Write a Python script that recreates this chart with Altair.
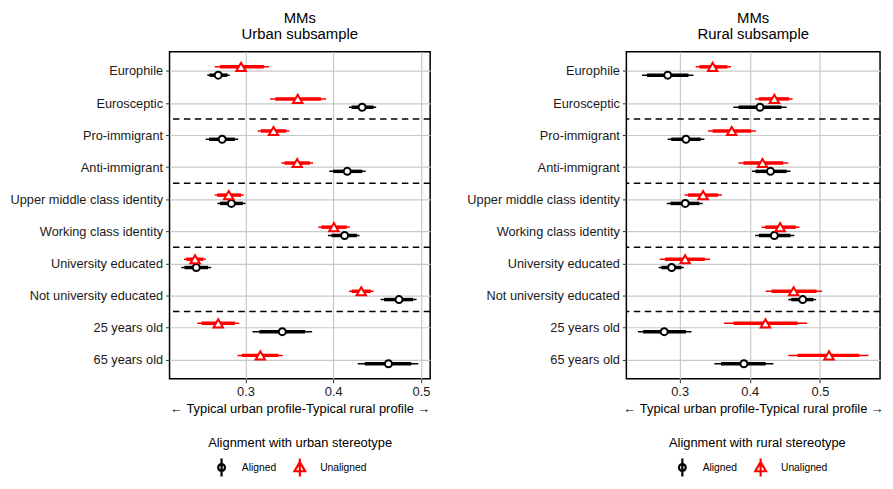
import altair as alt
import pandas as pd

FONT = "Liberation Sans"

labels = [
    "Europhile", "Eurosceptic", "Pro-immigrant", "Anti-immigrant",
    "Upper middle class identity", "Working class identity",
    "University educated", "Not university educated",
    "25 years old", "65 years old",
]
group_starts = ["Pro-immigrant", "Upper middle class identity", "University educated", "25 years old"]
align_names = ["Aligned", "Unaligned"]
x_ticks = [0.3, 0.4, 0.5]
x_title = "\u2190 Typical urban profile-Typical rural profile \u2192"

# Urban subsample - aligned (black)
ua_est = [0.269, 0.433, 0.2735, 0.416, 0.284, 0.413, 0.244, 0.475, 0.342, 0.463]
ua_lo95 = [0.2565, 0.418, 0.2547, 0.3955, 0.268, 0.394, 0.227, 0.454, 0.308, 0.428]
ua_hi95 = [0.282, 0.449, 0.2917, 0.437, 0.300, 0.430, 0.261, 0.495, 0.376, 0.497]
ua_lo90 = [0.259, 0.421, 0.2585, 0.400, 0.271, 0.398, 0.2305, 0.458, 0.316, 0.436]
ua_hi90 = [0.2795, 0.446, 0.288, 0.433, 0.297, 0.427, 0.2575, 0.491, 0.368, 0.489]
# Urban subsample - unaligned (red)
uu_est = [0.295, 0.3596, 0.332, 0.359, 0.281, 0.4008, 0.2426, 0.432, 0.269, 0.317]
uu_lo95 = [0.265, 0.328, 0.314, 0.341, 0.265, 0.383, 0.230, 0.418, 0.245, 0.291]
uu_hi95 = [0.327, 0.392, 0.350, 0.377, 0.298, 0.419, 0.2547, 0.446, 0.293, 0.3426]
uu_lo90 = [0.271, 0.334, 0.3175, 0.3445, 0.268, 0.3865, 0.2325, 0.421, 0.250, 0.296]
uu_hi90 = [0.321, 0.386, 0.3465, 0.3735, 0.295, 0.4155, 0.252, 0.443, 0.288, 0.3375]

# Rural subsample - aligned (black)
ra_est = [0.283, 0.4145, 0.309, 0.4295, 0.308, 0.435, 0.2886, 0.4754, 0.278, 0.3916]
ra_lo95 = [0.2464, 0.3765, 0.283, 0.403, 0.2817, 0.4076, 0.2702, 0.4548, 0.2405, 0.3495]
ra_hi95 = [0.3196, 0.4525, 0.3353, 0.458, 0.333, 0.4635, 0.3059, 0.4946, 0.3169, 0.4337]
ra_lo90 = [0.2535, 0.384, 0.288, 0.408, 0.287, 0.413, 0.274, 0.459, 0.248, 0.359]
ra_hi90 = [0.3125, 0.445, 0.330, 0.4525, 0.328, 0.458, 0.3025, 0.4905, 0.309, 0.4225]
# Rural subsample - unaligned (red)
ru_est = [0.3471, 0.435, 0.3742, 0.4181, 0.3334, 0.4433, 0.3078, 0.4625, 0.4223, 0.5129]
ru_lo95 = [0.3229, 0.4076, 0.3403, 0.3838, 0.3069, 0.4168, 0.2716, 0.4227, 0.3632, 0.4548]
ru_hi95 = [0.3732, 0.4611, 0.4089, 0.4548, 0.3604, 0.4708, 0.3435, 0.5029, 0.4818, 0.5692]
ru_lo90 = [0.328, 0.413, 0.347, 0.391, 0.312, 0.422, 0.279, 0.431, 0.377, 0.468]
ru_hi90 = [0.368, 0.456, 0.402, 0.4475, 0.355, 0.4655, 0.336, 0.495, 0.468, 0.556]


def build_df(a, u):
    rows = []
    for name, series in (("Aligned", a), ("Unaligned", u)):
        est, lo95, hi95, lo90, hi90 = series
        for i, lab in enumerate(labels):
            rows.append(dict(label=lab, align=name, est=est[i], lo95=lo95[i],
                             hi95=hi95[i], lo90=lo90[i], hi90=hi90[i]))
    return pd.DataFrame(rows)


urban_df = build_df((ua_est, ua_lo95, ua_hi95, ua_lo90, ua_hi90),
                    (uu_est, uu_lo95, uu_hi95, uu_lo90, uu_hi90))
rural_df = build_df((ra_est, ra_lo95, ra_hi95, ra_lo90, ra_hi90),
                    (ru_est, ru_lo95, ru_hi95, ru_lo90, ru_hi90))
bounds_df = pd.DataFrame({"label": group_starts})

H = 330
STEP = H / (len(labels) - 1 + 1.2)
DODGE = 4.2
Y_EXTENT = 162

circ_path = "M-0.38,0 A0.38,0.38 0 1,0 0.38,0 A0.38,0.38 0 1,0 -0.38,0 M0,-1 L0,1"
tri_path = "M0,-0.62 L0.6,0.42 L-0.6,0.42 Z M0,-1 L0,1"


def panel(df, title_lines, legend_title, width, legend_x):
    lo = df["lo95"].min()
    hi = df["hi95"].max()
    pad = 0.05 * (hi - lo)
    xs = alt.Scale(domain=[lo - pad, hi + pad], nice=False, zero=False)
    ys = alt.Scale(type="point", padding=0.6, domain=labels)
    x_axis = alt.Axis(values=x_ticks, format=".1f", title=x_title, grid=True,
                      domain=False, tickSize=4, labelPadding=3, titlePadding=4,
                      labelFontSize=13, titleFontSize=13, titleFontWeight="normal",
                      titleLimit=400)
    y_axis = alt.Axis(title=None, grid=True, domain=False, tickSize=4,
                      labelPadding=3, labelFontSize=12.9,
                      minExtent=Y_EXTENT, maxExtent=Y_EXTENT)
    y = alt.Y("label:N", scale=ys, axis=y_axis)

    layers = []
    layers.append(
        alt.Chart(bounds_df).mark_rule(color="black", strokeWidth=1.5,
                                       strokeDash=[6.5, 4.5], yOffset=-STEP / 2)
        .encode(y=y)
    )
    base = alt.Chart(df)
    for name, color, shape, size, dy in (
        ("Aligned", "black", "circle", 50, DODGE),
        ("Unaligned", "red", "triangle-up", 90, -DODGE),
    ):
        sub = base.transform_filter(alt.datum.align == name)
        layers.append(
            sub.mark_rule(color=color, strokeWidth=1.5, yOffset=dy).encode(
                x=alt.X("lo95:Q", scale=xs, axis=x_axis), x2="hi95:Q", y=y)
        )
        layers.append(
            sub.mark_rule(color=color, strokeWidth=3.5, yOffset=dy).encode(
                x=alt.X("lo90:Q", scale=xs, axis=x_axis), x2="hi90:Q", y=y)
        )
        layers.append(
            sub.mark_point(shape=shape, filled=True, fill="white", fillOpacity=1,
                           stroke=color, strokeWidth=2, size=size, yOffset=dy,
                           opacity=1).encode(
                x=alt.X("est:Q", scale=xs, axis=x_axis), y=y)
        )
    lg = alt.Legend(title=legend_title, orient="none", legendX=legend_x, legendY=389,
                    direction="horizontal", titleAnchor="start", symbolSize=324,
                    symbolStrokeWidth=2.2, symbolOpacity=1, labelFontSize=10.4,
                    titleFontSize=13, titleFontWeight="normal", titlePadding=7,
                    titleLimit=400, labelLimit=200, labelOffset=10,
                    columnPadding=10, symbolOffset=3)
    layers.append(
        alt.Chart(df).transform_filter("datum.est < 0").mark_point(
            filled=False, strokeWidth=2, opacity=1).encode(
            color=alt.Color("align:N", scale=alt.Scale(domain=align_names, range=["black", "red"]), legend=lg),
            shape=alt.Shape("align:N", scale=alt.Scale(domain=align_names, range=[circ_path, tri_path]), legend=lg),
        )
    )
    return alt.layer(*layers).properties(
        width=width, height=H,
        title=alt.TitleParams(text=title_lines, fontSize=15, fontWeight="normal",
                              anchor="middle", lineHeight=16.5, offset=9.5, font=FONT,
                              color="black"),
    )


left = panel(urban_df, ["MMs", "Urban subsample"], "Alignment with urban stereotype", 263, 39)
right = panel(rural_df, ["MMs", "Rural subsample"], "Alignment with rural stereotype", 256, 43)

chart = (
    alt.hconcat(left, right, spacing=33)
    .resolve_scale(x="independent", color="independent", shape="independent")
    .resolve_legend(color="independent", shape="independent")
    .properties(padding={"left": 0, "top": 0, "right": 0, "bottom": 0})
    .configure(font=FONT)
    .configure_view(stroke="black", strokeWidth=1.5)
    .configure_axis(labelFont=FONT, titleFont=FONT, labelColor="#1a1a1a",
                    titleColor="black", tickColor="#333333", gridColor="#c8c8c8",
                    gridWidth=1.2)
    .configure_legend(labelFont=FONT, titleFont=FONT, labelColor="black",
                      titleColor="black")
)

chart.save("out.html", embed_options={"renderer": "svg", "actions": False})
